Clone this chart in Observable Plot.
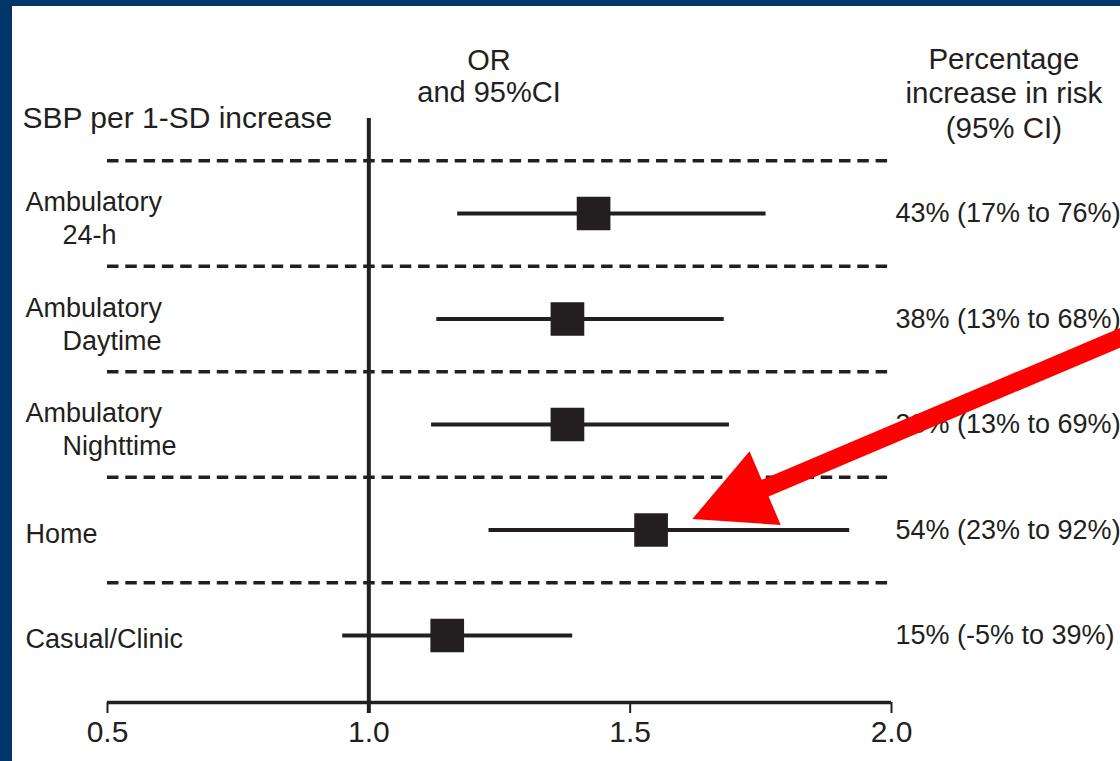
<!DOCTYPE html>
<html><head><meta charset="utf-8">
<script src="https://cdn.jsdelivr.net/npm/d3@7"></script>
<script src="https://cdn.jsdelivr.net/npm/@observablehq/plot@0.6"></script>
<style>
html,body{margin:0;padding:0;background:#013668;overflow:hidden;width:1120px;height:761px;}
#panel{position:absolute;left:12px;top:6px;width:1108px;height:755px;background:#fff;overflow:hidden;}
</style></head><body><div id="panel"></div>
<script>
// ---- data ----
const measures = ["Ambulatory 24-h", "Ambulatory Daytime", "Ambulatory Nighttime", "Home", "Casual/Clinic"];
const labelLine1 = ["Ambulatory", "Ambulatory", "Ambulatory", "Home", "Casual/Clinic"];
const labelLine2 = ["24-h", "Daytime", "Nighttime", "", ""];
const orValues = [1.43, 1.38, 1.38, 1.54, 1.15];
const ciLow = [1.17, 1.13, 1.12, 1.23, 0.95];
const ciHigh = [1.76, 1.68, 1.69, 1.92, 1.39];
const pctLabels = ["43% (17% to 76%)", "38% (13% to 68%)", "38% (13% to 69%)", "54% (23% to 92%)", "15% (-5% to 39%)"];
const xTicks = [0.5, 1.0, 1.5, 2.0];
const headerLeft = "SBP per 1-SD increase";
const headerMiddle = "OR\nand 95%CI";
const headerRight = "Percentage\nincrease in risk\n(95% CI)";
// annotation arrow (data space: x = OR, row index)
const arrowTail = [2.5, 1.054];
const arrowTip = [1.62, 2.90];

const rows = measures.map((m, i) => ({
  measure: m, row: i, or: orValues[i], lo: ciLow[i], hi: ciHigh[i],
  pct: pctLabels[i], l1: labelLine1[i], l2: labelLine2[i]
}));

const yMax = 4.635;
const headerRow = -0.9;
const ink = "#231f20";
const font = "'Liberation Sans', Arial, Helvetica, sans-serif";

const arrowMark = (index, scales) => {
  const T = [scales.x(arrowTip[0]), scales.y(arrowTip[1])];
  const S = [scales.x(arrowTail[0]), scales.y(arrowTail[1])];
  const len = Math.hypot(S[0] - T[0], S[1] - T[1]);
  const u = [(S[0] - T[0]) / len, (S[1] - T[1]) / len];
  const n = [-u[1], u[0]];
  const headLen = 79, headHalf = 40, shaftHalf = 9;
  const B = [T[0] + u[0] * headLen, T[1] + u[1] * headLen];
  const pts = [
    T,
    [B[0] + n[0] * headHalf, B[1] + n[1] * headHalf],
    [B[0] + n[0] * shaftHalf, B[1] + n[1] * shaftHalf],
    [S[0] + n[0] * shaftHalf, S[1] + n[1] * shaftHalf],
    [S[0] - n[0] * shaftHalf, S[1] - n[1] * shaftHalf],
    [B[0] - n[0] * shaftHalf, B[1] - n[1] * shaftHalf],
    [B[0] - n[0] * headHalf, B[1] - n[1] * headHalf]
  ];
  const g = d3.create("svg:g");
  g.append("path").attr("d", "M" + pts.map(p => p.join(",")).join("L") + "Z").attr("fill", "#ff0000");
  return g.node();
};

const chart = Plot.plot({
  width: 1108, height: 755,
  marginLeft: 95, marginRight: 229, marginTop: 207, marginBottom: 59,
  style: {fontFamily: font, background: "white", color: ink, overflow: "visible"},
  x: {domain: [0.5, 2.0]},
  y: {domain: [0, yMax], reverse: true, axis: null},
  marks: [
    Plot.ruleY(rows, {y: d => d.row - 0.5, x1: 0.5, x2: 2.0, stroke: ink, strokeWidth: 3.5, strokeDasharray: "11.5,6.8"}),
    Plot.ruleX([1], {y1: headerRow, y2: yMax, insetBottom: -11, stroke: ink, strokeWidth: 4}),
    Plot.ruleY([yMax], {x1: 0.5, x2: 2.0, stroke: ink, strokeWidth: 3.5}),
    Plot.axisX({ticks: xTicks, tickFormat: d3.format(".1f"), tickSize: 11, tickPadding: 7, fontSize: 30, strokeWidth: 2, label: null, anchor: "bottom"}),
    Plot.ruleY(rows, {y: "row", x1: "lo", x2: "hi", stroke: ink, strokeWidth: 4}),
    Plot.dot(rows, {x: "or", y: "row", symbol: "square", r: 19, fill: ink}),
    Plot.text(rows.filter(d => d.l2), {y: "row", text: "l1", frameAnchor: "left", textAnchor: "start", dx: -82, dy: -11, fontSize: 27, fill: ink}),
    Plot.text(rows.filter(d => d.l2), {y: "row", text: "l2", frameAnchor: "left", textAnchor: "start", dx: -45, dy: 22, fontSize: 27, fill: ink}),
    Plot.text(rows.filter(d => !d.l2), {y: "row", text: "l1", frameAnchor: "left", textAnchor: "start", dx: -82, dy: 4, fontSize: 27, fill: ink}),
    Plot.text(rows, {x: 2.0, y: "row", text: "pct", textAnchor: "start", dx: 4, fontSize: 27, fill: ink}),
    Plot.text([headerLeft], {y: headerRow, text: d => d, frameAnchor: "left", textAnchor: "start", dx: -85, fontSize: 30, fill: ink}),
    Plot.text([headerMiddle], {x: 1.230, y: -1.306, text: d => d, textAnchor: "middle", lineHeight: 1.086, fontSize: 29, fill: ink}),
    Plot.text([headerRight], {x: 2.215, y: -1.147, text: d => d, textAnchor: "middle", lineHeight: 1.16, fontSize: 29.5, fill: ink}),
    arrowMark
  ]
});
document.getElementById("panel").appendChild(chart);
</script></body></html>
